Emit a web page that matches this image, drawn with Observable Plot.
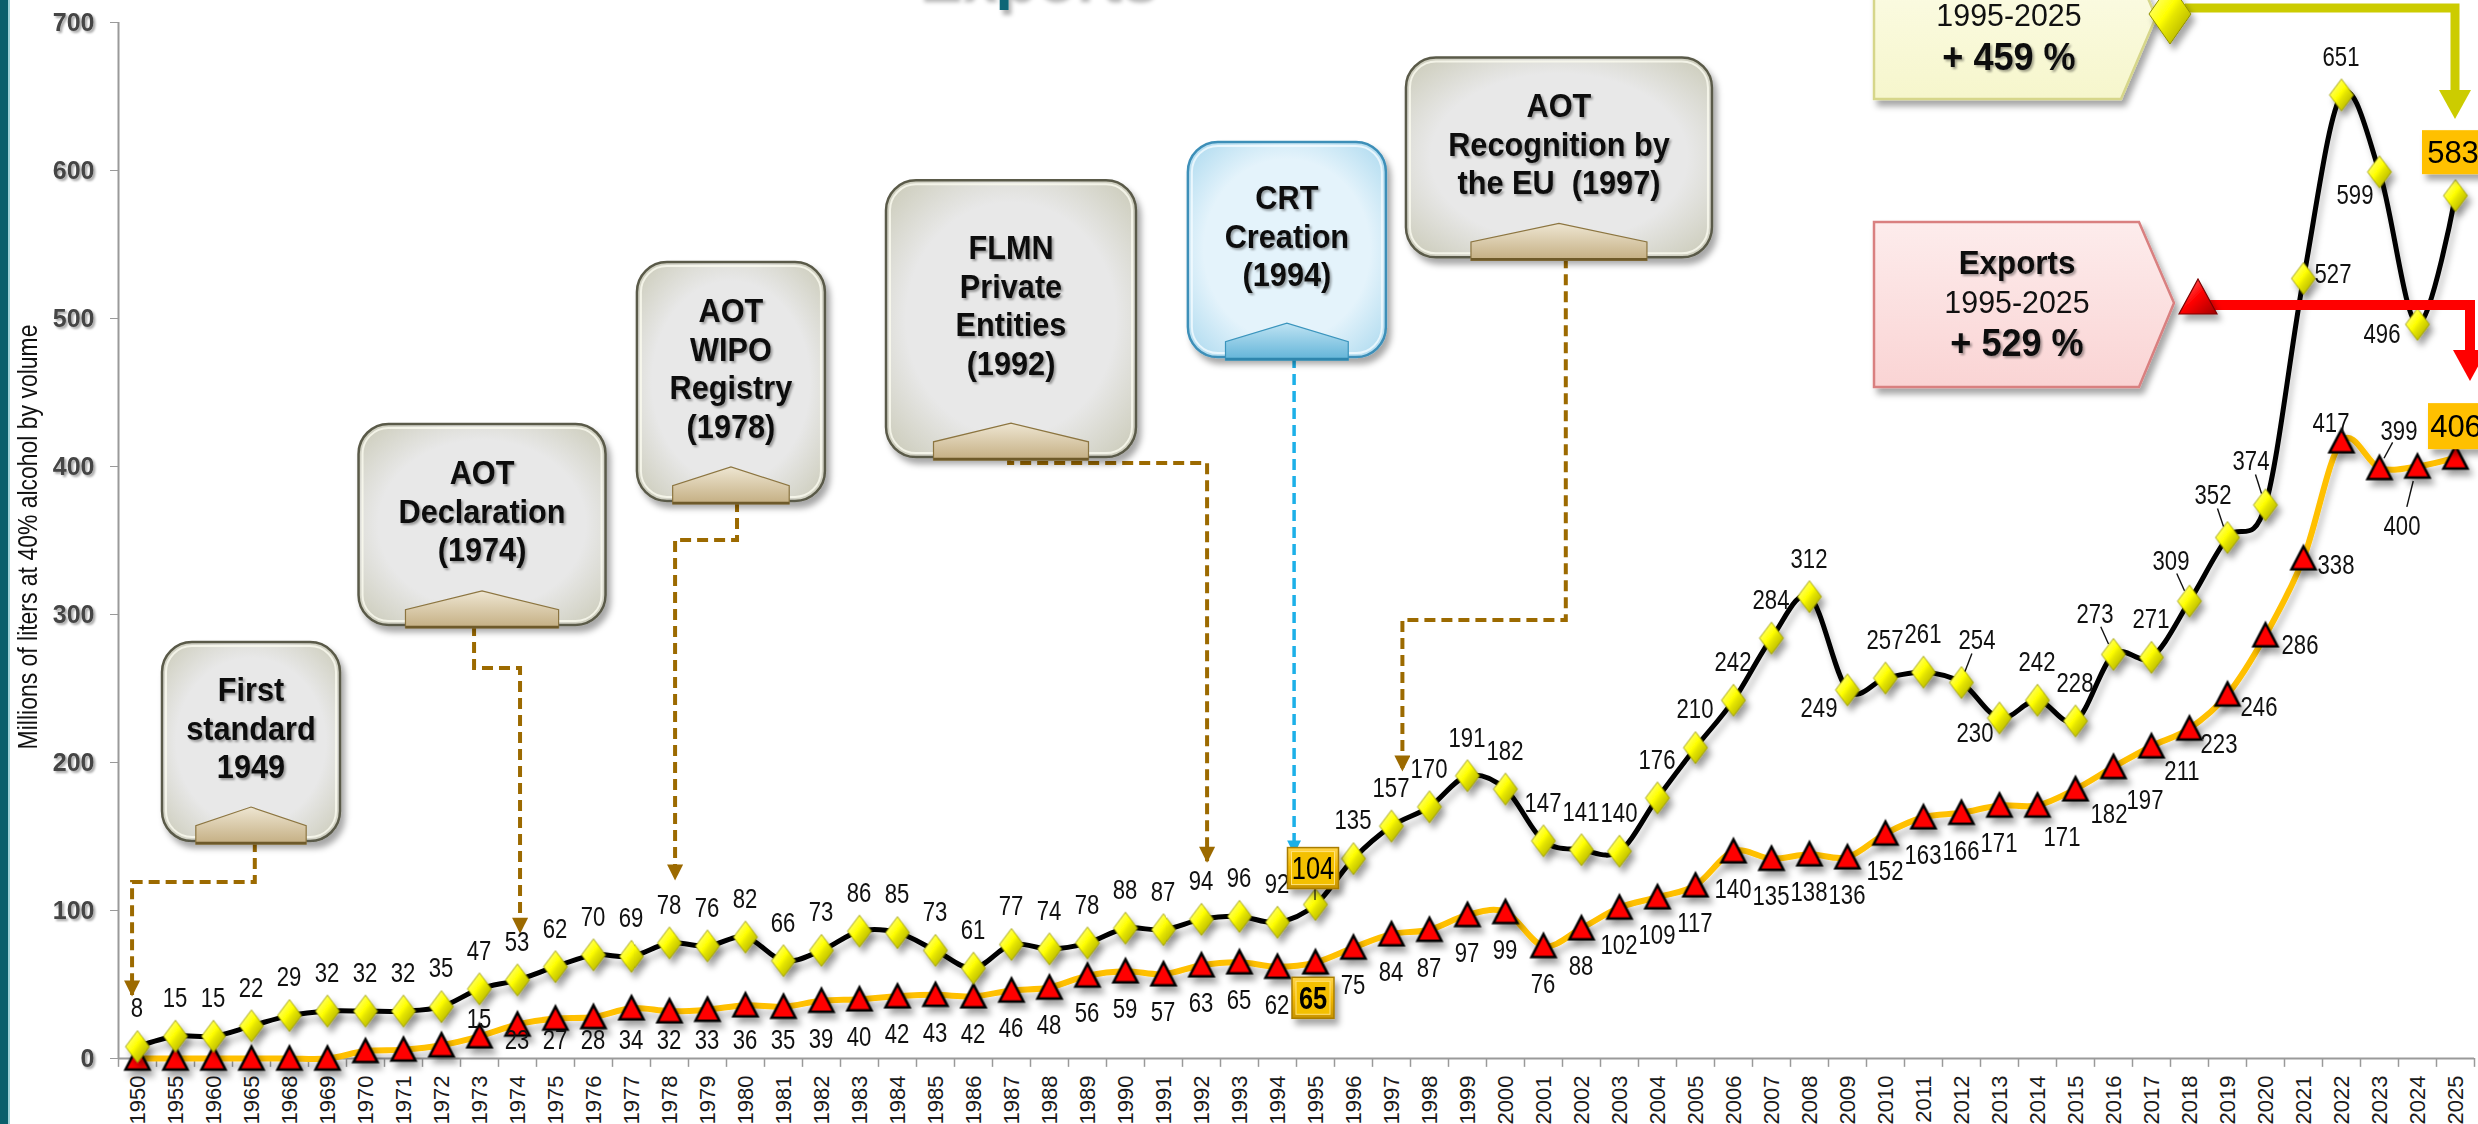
<!DOCTYPE html>
<html><head><meta charset="utf-8">
<script src="https://cdn.jsdelivr.net/npm/d3@7"></script>
<script src="https://cdn.jsdelivr.net/npm/@observablehq/plot@0.6"></script>
<style>
html,body{margin:0;padding:0;background:#fff;overflow:hidden;}
#chart{position:relative;width:2478px;height:1124px;}
</style></head><body><div id="chart"></div>
<script>
// ---------------- DATA ----------------
const years = ["1950","1955","1960","1965","1968","1969","1970","1971","1972","1973","1974","1975","1976","1977","1978","1979",
"1980","1981","1982","1983","1984","1985","1986","1987","1988","1989","1990","1991","1992","1993","1994","1995","1996","1997","1998","1999",
"2000","2001","2002","2003","2004","2005","2006","2007","2008","2009","2010","2011","2012","2013","2014","2015","2016","2017","2018","2019",
"2020","2021","2022","2023","2024","2025"];
const production = [8,15,15,22,29,32,32,32,35,47,53,62,70,69,78,76,82,66,73,86,85,73,61,77,74,78,88,87,94,96,92,104,135,157,170,191,
182,147,141,140,176,210,242,284,312,249,257,261,254,230,242,228,273,271,309,352,374,527,651,599,496,583];
const exportsV = [0,0,0,0,0,0,5,6,9,15,23,27,28,34,32,33,36,35,39,40,42,43,42,46,48,56,59,57,63,65,62,65,75,84,87,97,
99,76,88,102,109,117,140,135,138,136,152,163,166,171,171,182,197,211,223,246,286,338,417,399,400,406];
const yTicks = [0,100,200,300,400,500,600,700];
const firstExportLabelYear = "1973";
const yLabel = "Millions of liters at 40% alcohol by volume";
const titleText = "Exports";
const legendProd = {period:"1995-2025", change:"+ 459 %"};
const legendExp = {name:"Exports", period:"1995-2025", change:"+ 529 %"};

// label placement (px offsets from the point) – exceptions to the default
const prodLabelOffset = {"2009":[-28,18],"2012":[16,-42,1],"2013":[-24,15],"2016":[-18,-40,1],"2018":[-18,-40,1],
  "2019":[-14,-42,1],"2020":[-14,-44,1],"2021":[30,-4],"2023":[-24,23],"2024":[-35,10]};
const expLabelOffset = {"1973":[0,-17],"2014":[25,32],"2015":[34,25],"2016":[32,33],"2017":[31,25],"2018":[30,16],
  "2019":[32,13],"2020":[35,10],"2021":[33,7],"2022":[-10,-18],"2023":[20,-37,1],"2024":[-15,60,1]};
const boxedYears = ["1995","2025"];

// callouts: x as category index, y in data units
const callouts = [
 {lines:["First","standard","1949"], cx:3.0, w:178, top:281, bottom:146.6, theme:"gray",
  path:[[3.1,146.6],[3.1,119],[-0.13,119],[-0.13,42.6]]},
 {lines:["AOT","Declaration","(1974)"], cx:9.08, w:247, top:428.4, bottom:292.6, theme:"gray",
  path:[[8.87,292.6],[8.87,263.5],[10.08,263.5],[10.08,85]]},
 {lines:["AOT","WIPO","Registry","(1978)"], cx:15.63, w:188, top:537.8, bottom:376.4, theme:"gray",
  path:[[15.79,376.4],[15.79,350],[14.16,350],[14.16,121]]},
 {lines:["FLMN","Private","Entities","(1992)"], cx:23.0, w:250, top:593, bottom:406, theme:"gray",
  path:[[22.95,406],[22.95,402],[28.16,402],[28.16,133]]},
 {lines:["CRT","Creation","(1994)"], cx:30.26, w:198, top:619, bottom:473.6, theme:"blue",
  path:[[30.45,473.6],[30.45,138.5]]},
 {lines:["AOT","Recognition by","the EU  (1997)"], cx:37.42, w:306, top:676, bottom:541, theme:"gray",
  path:[[37.6,541],[37.6,296],[33.3,296],[33.3,194.6]]}
];

// ---------------- CHART ----------------
const FA = '"Liberation Sans",Arial,sans-serif';
const NARROW = 0.82;
const prodData = years.map((year,i)=>({year, v:production[i]}));
const expData = years.map((year,i)=>({year, v:exportsV[i]}));

const diaSym = {draw(c){c.moveTo(0,-16);c.lineTo(12,0);c.lineTo(0,16);c.lineTo(-12,0);c.closePath();}};
const triSym = {draw(c){c.moveTo(0,-12);c.lineTo(12,11);c.lineTo(-12,11);c.closePath();}};

const plot = Plot.plot({
  width:2478, height:1124,
  marginLeft:118, marginRight:4, marginTop:22, marginBottom:66,
  x:{type:"band", domain:years, padding:0, label:null},
  y:{domain:[0,700], label:null},
  style:{background:"white", fontFamily:FA, overflow:"visible"},
  marks:[
    Plot.ruleY([0], {stroke:"#9a9a9a", strokeWidth:2}),
    Plot.ruleX([years[0]], {dx:-19, y1:0, y2:700, stroke:"#9a9a9a", strokeWidth:2}),
    Plot.ruleX(years, {dx:-19, y1:0, y2:-6, stroke:"#9a9a9a", strokeWidth:1.5}),
    Plot.ruleX([years[years.length-1]], {dx:19, y1:0, y2:-6, stroke:"#9a9a9a", strokeWidth:1.5}),
    Plot.axisY({ticks:yTicks, tickSize:8, tickPadding:16, fontSize:25, fontWeight:"bold", fill:"#454545", stroke:"#9a9a9a", label:null}),
    Plot.axisX({tickSize:0, tickRotate:-90, tickPadding:17, fontSize:22, fill:"#1a1a1a", label:null}),
    Plot.line(expData, {x:"year", y:"v", stroke:"#FFC000", strokeWidth:6, curve:"cardinal"}),
    Plot.line(prodData, {x:"year", y:"v", stroke:"#000", strokeWidth:5, curve:"cardinal"}),
    Plot.dot(expData, {x:"year", y:"v", symbol:triSym, fill:"#ff0000", stroke:"#000", strokeWidth:2.5}),
    Plot.dot(prodData, {x:"year", y:"v", symbol:diaSym, fill:"url(#gDia)", stroke:"#8f8f00", strokeWidth:0.8})
  ]
});
document.getElementById("chart").appendChild(plot);

// ---------------- DECORATION ----------------
const svg = d3.select(plot);
const xs = plot.scale("x"), ys = plot.scale("y");
const step = xs.step || xs.bandwidth;
const X = yr => xs.apply(yr) + xs.bandwidth/2;
const Xi = i => X(years[0]) + i*step;
const Y = v => ys.apply(v);

const defs = svg.insert("defs", ":first-child");
defs.html(`
<linearGradient id="gDia" x1="0" y1="0" x2="1" y2="1">
  <stop offset="0" stop-color="#ffffb0"/><stop offset="0.45" stop-color="#ffff00"/><stop offset="0.55" stop-color="#e6e600"/><stop offset="1" stop-color="#9a9a00"/></linearGradient>
<linearGradient id="gTriBig" x1="0" y1="0" x2="1" y2="1">
  <stop offset="0" stop-color="#ff8080"/><stop offset="0.5" stop-color="#ff0000"/><stop offset="1" stop-color="#a00000"/></linearGradient>
<radialGradient id="gBox" cx="0.5" cy="0.5" r="0.7">
  <stop offset="0.6" stop-color="#e8e8e8"/><stop offset="1" stop-color="#c9c9b6"/></radialGradient>
<radialGradient id="gBoxBlue" cx="0.5" cy="0.5" r="0.7">
  <stop offset="0.6" stop-color="#e4f3fb"/><stop offset="1" stop-color="#a9d8ee"/></radialGradient>
<linearGradient id="gTab" x1="0" y1="0" x2="0" y2="1">
  <stop offset="0" stop-color="#eee6d2"/><stop offset="1" stop-color="#c4ae82"/></linearGradient>
<linearGradient id="gTabBlue" x1="0" y1="0" x2="0" y2="1">
  <stop offset="0" stop-color="#bfe3f3"/><stop offset="1" stop-color="#62b4d8"/></linearGradient>
<linearGradient id="gYel" x1="0" y1="0" x2="0" y2="1">
  <stop offset="0" stop-color="#fdfdec"/><stop offset="1" stop-color="#f6f6cc"/></linearGradient>
<linearGradient id="gPink" x1="0" y1="0" x2="0" y2="1">
  <stop offset="0" stop-color="#fdecec"/><stop offset="1" stop-color="#fad4d4"/></linearGradient>
<linearGradient id="gGold" x1="0" y1="0" x2="0" y2="1">
  <stop offset="0" stop-color="#ffd54a"/><stop offset="0.5" stop-color="#f2b800"/><stop offset="1" stop-color="#c89400"/></linearGradient>
<filter id="shadow" x="-30%" y="-30%" width="170%" height="170%"><feDropShadow dx="4" dy="6" stdDeviation="3" flood-color="#000" flood-opacity="0.35"/></filter>
<filter id="lshadow" filterUnits="userSpaceOnUse" x="0" y="0" width="2478" height="1124"><feDropShadow dx="3" dy="7" stdDeviation="3" flood-color="#000" flood-opacity="0.22"/></filter>
<filter id="tshadow" x="-20%" y="-20%" width="140%" height="150%"><feDropShadow dx="2" dy="2" stdDeviation="1.3" flood-color="#000" flood-opacity="0.35"/></filter>
<filter id="titleShadow" filterUnits="userSpaceOnUse" x="0" y="-200" width="2478" height="400"><feDropShadow dx="3" dy="5" stdDeviation="2" flood-color="#000" flood-opacity="0.3"/></filter>
<marker id="arrBrown" viewBox="0 0 10 10" refX="9" refY="5" markerWidth="4.2" markerHeight="4" orient="auto"><path d="M0,0L10,5L0,10z" fill="#9c6a00"/></marker>
<marker id="arrBlue" viewBox="0 0 10 10" refX="9" refY="5" markerWidth="4.2" markerHeight="4" orient="auto"><path d="M0,0L10,5L0,10z" fill="#1cb0e8"/></marker>
`);

svg.selectAll('g[aria-label="dot"]').attr("filter","url(#shadow)");
svg.selectAll('g[aria-label="line"]').attr("filter","url(#lshadow)");
svg.selectAll('g[aria-label="y-axis tick label"] text').attr("filter","url(#tshadow)");

// text helper; sx < 1 gives the Arial Narrow look
function ntext(g, x, y, str, size, weight, sx){
  return g.append("text").attr("transform",`translate(${x},${y}) scale(${sx || NARROW},1)`)
    .attr("text-anchor","middle").attr("dominant-baseline","central")
    .attr("font-family",FA).attr("font-size",size).attr("font-weight",weight||"normal").attr("fill","#111").text(str);
}

// left bar, title, y label
svg.append("rect").attr("x",0).attr("y",0).attr("width",8).attr("height",1124).attr("fill","#0b5e6b");
svg.append("rect").attr("x",8).attr("y",0).attr("width",2).attr("height",1124).attr("fill","#9fd0d6");
svg.append("text").attr("x",917).attr("y",-3).attr("text-anchor","start").attr("font-family",FA).attr("font-weight","bold").attr("font-size",64)
  .attr("fill","#0b6676").attr("filter","url(#titleShadow)").text(titleText);
svg.append("text").attr("transform",`translate(27,${(Y(0)+Y(700))/2 - 3}) rotate(-90) scale(${NARROW},1)`).attr("text-anchor","middle")
  .attr("dominant-baseline","central").attr("font-family",FA).attr("font-size",28).attr("fill","#111").text(yLabel);

// callouts
const gc = svg.append("g");
callouts.forEach(c => {
  const cx = Xi(c.cx), x0 = cx - c.w/2, y0 = Y(c.top), y1 = Y(c.bottom), h = y1 - y0;
  const blue = c.theme === "blue";
  const pts = c.path.map(([i,v]) => [Xi(i), Y(v)]);
  gc.append("path").attr("d", d3.line()(pts)).attr("fill","none")
    .attr("stroke", blue ? "#1cb0e8" : "#9c6a00").attr("stroke-width", blue ? 3.5 : 4)
    .attr("stroke-dasharray","11,6").attr("marker-end", blue ? "url(#arrBlue)" : "url(#arrBrown)");
  const r = Math.min(30, c.w/5);
  gc.append("rect").attr("x",x0).attr("y",y0).attr("width",c.w).attr("height",h).attr("rx",r).attr("ry",r)
    .attr("fill", blue ? "url(#gBoxBlue)" : "url(#gBox)").attr("stroke", blue ? "#3d8fb8" : "#5a5a48").attr("stroke-width",2.5)
    .attr("filter","url(#shadow)");
  gc.append("rect").attr("x",x0+4).attr("y",y0+4).attr("width",c.w-8).attr("height",h-8).attr("rx",r-4).attr("ry",r-4)
    .attr("fill","none").attr("stroke", blue ? "#f4fbff" : "#fbfbf0").attr("stroke-width",2).attr("opacity",0.8);
  const tw = Math.min(c.w*0.62, 176), th = 34, tx = cx - tw/2;
  gc.append("path").attr("d",`M${tx},${y1+3}L${tx},${y1-th*0.45}L${cx},${y1-th}L${tx+tw},${y1-th*0.45}L${tx+tw},${y1+3}Z`)
    .attr("fill", blue ? "url(#gTabBlue)" : "url(#gTab)").attr("stroke", blue ? "#3b95bd" : "#8c7540").attr("stroke-width",1.2);
  gc.append("line").attr("x1",tx).attr("x2",tx+tw).attr("y1",y1+2).attr("y2",y1+2).attr("stroke", blue ? "#2f86ad" : "#6e5a2a").attr("stroke-width",2.5);
  const n = c.lines.length, lh = 38.5;
  const mid = y0 + (h - th)/2 + 4;
  c.lines.forEach((t,k) => {
    ntext(gc, cx, mid + (k-(n-1)/2)*lh, t, 33, "bold", 0.93).attr("filter","url(#tshadow)");
  });
});

// data labels
const gl = svg.append("g");
function leader(px,py,o){
  gl.append("line").attr("x1",px+o[0]*0.25).attr("y1",py+o[1]*0.25).attr("x2",px+o[0]*0.68).attr("y2",py+o[1]*0.68)
    .attr("stroke","#111").attr("stroke-width",1.4);
}
prodData.forEach(d => {
  if (boxedYears.includes(d.year)) return;
  const px = X(d.year), py = Y(d.v), o = prodLabelOffset[d.year] || [0,-38];
  ntext(gl, px+o[0], py+o[1], d.v, 27);
  if (o[2]) leader(px,py,o);
});
const startIdx = years.indexOf(firstExportLabelYear);
expData.forEach((d,i) => {
  if (i < startIdx || boxedYears.includes(d.year)) return;
  const px = X(d.year), py = Y(d.v);
  let o = expLabelOffset[d.year];
  if (!o) o = [0, Math.min(38, Y(0) - 18 - py)];
  ntext(gl, px+o[0], py+o[1], d.v, 27);
  if (o[2]) leader(px,py,o);
});

// boxed labels
function valueBox(px, py, w, h, text, fill, sx, weight, size, bevel){
  const g = svg.append("g");
  g.append("rect").attr("x",px-w/2).attr("y",py-h/2).attr("width",w).attr("height",h)
    .attr("fill",fill).attr("stroke", bevel ? "#a97d00" : "none").attr("stroke-width",1.5).attr("filter","url(#shadow)");
  if (bevel) g.append("rect").attr("x",px-w/2+4).attr("y",py-h/2+4).attr("width",w-8).attr("height",h-8)
    .attr("fill","#f4c000").attr("stroke","#ffe27a").attr("stroke-width",1);
  ntext(g, px, py, text, size, weight, sx).attr("fill","#000");
}
const iP95 = years.indexOf("1995"), iP25 = years.indexOf("2025");
svg.append("line").attr("x1",X("1995")).attr("x2",X("1995")).attr("y1",Y(production[iP95])-16).attr("y2",Y(production[iP95])-4)
  .attr("stroke","#111").attr("stroke-width",1.2);
valueBox(X("1995")-2, Y(production[iP95])-36, 51, 41, production[iP95], "url(#gGold)", NARROW, "normal", 31, true);
valueBox(X("1995")-2, Y(exportsV[iP95])+36, 42, 41, exportsV[iP95], "url(#gGold)", NARROW, "bold", 31, true);
valueBox(X("2025")-2, Y(production[iP25])-43, 62, 44, production[iP25], "#FFC000", 1, "normal", 31, false);
valueBox(X("2025")+1, Y(exportsV[iP25])-31, 56, 46, exportsV[iP25], "#FFC000", 1, "normal", 31, false);

// legend-like callouts on the right
const gr = svg.append("g");
gr.append("path").attr("d","M1874,-65L2121,-65L2156,17L2121,99L1874,99Z").attr("fill","url(#gYel)")
  .attr("stroke","#d6d68a").attr("stroke-width",2.5).attr("filter","url(#shadow)");
gr.append("path").attr("d","M1874,222L2139,222L2174,303L2139,387L1874,387Z").attr("fill","url(#gPink)")
  .attr("stroke","#d98080").attr("stroke-width",2.5).attr("filter","url(#shadow)");
function rtext(x,y,t,size,weight){
  ntext(gr, x, y, t, size, weight, 0.95).attr("filter", weight==="bold" ? "url(#tshadow)" : null);
}
rtext(2009, 15, legendProd.period, 32, "normal");
rtext(2009, 57, legendProd.change, 38, "bold");
rtext(2017, 263, legendExp.name, 33, "bold");
rtext(2017, 302, legendExp.period, 32, "normal");
rtext(2017, 343, legendExp.change, 38, "bold");
gr.append("path").attr("d","M2185,8L2455,8L2455,92").attr("fill","none").attr("stroke","#cccc00").attr("stroke-width",9);
gr.append("path").attr("d","M2439,90L2471,90L2455,119Z").attr("fill","#cccc00");
gr.append("path").attr("d","M2210,305L2470,305L2470,352").attr("fill","none").attr("stroke","#ff0000").attr("stroke-width",10);
gr.append("path").attr("d","M2453,350L2487,350L2470,381Z").attr("fill","#ff0000");
gr.append("path").attr("d","M2170,-16L2191,14L2170,44L2149,14Z").attr("fill","url(#gDia)").attr("stroke","#8f8f00").attr("stroke-width",1).attr("filter","url(#shadow)");
gr.append("path").attr("d","M2198,279L2217,314L2179,314Z").attr("fill","url(#gTriBig)").attr("stroke","#7a0000").attr("stroke-width",1.2).attr("filter","url(#shadow)");
</script>
</body></html>
